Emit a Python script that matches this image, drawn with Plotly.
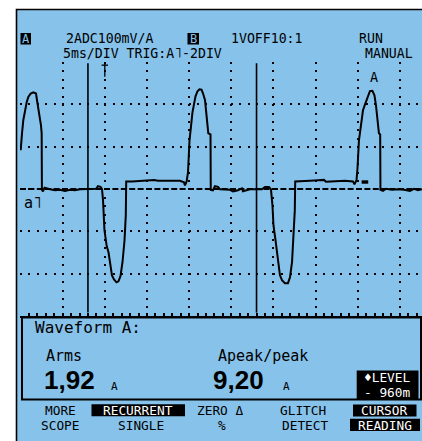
import plotly.graph_objects as go

time_ms = [0.02, 0.09, 0.18, 0.33, 0.53, 0.74, 0.93, 1.21, 1.52, 1.84, 1.99, 2.23, 2.43, 2.51, 2.54, 2.67, 2.85,
           3.50, 4.09, 4.69, 5.28, 5.87, 6.46, 7.06, 7.65, 8.24, 8.96, 9.19, 9.49, 9.67, 9.79, 9.96, 10.23, 10.44,
           10.68, 10.85, 11.09, 11.39, 11.62, 11.86, 12.10, 12.34, 12.49, 12.54, 13.23, 14.18, 15.12, 15.84, 16.31,
           17.14, 17.97, 18.92, 19.39, 19.51, 19.71, 19.87, 20.05, 20.22, 20.40, 20.58, 20.76, 21.00, 21.23, 21.47,
           21.65, 21.89, 22.06, 22.28, 22.54, 22.57, 22.83, 23.07, 23.43, 23.66, 24.85, 25.21, 25.80, 26.27, 26.39,
           27.22, 28.64, 29.00, 29.47, 29.71, 29.89, 30.01, 30.25, 30.43, 30.60, 30.78, 31.02, 31.37, 31.73, 31.97,
           32.21, 32.38, 32.54, 32.59, 33.15, 34.34, 35.29, 36.00, 36.24, 37.31, 38.49, 39.44, 39.62, 39.86, 39.98,
           40.15, 40.39, 40.63, 40.87, 41.04, 41.25, 41.45, 41.75, 41.99, 42.17, 42.35, 42.52, 42.67, 42.70, 43.00,
           43.36, 44.07, 44.78, 45.49, 46.20, 46.68, 47.15, 47.62]
current_a = [1.83, 2.30, 2.63, 3.25, 3.72, 4.11, 4.35, 4.51, 4.57, 4.51, 4.11, 3.56, 3.01, 2.63, -0.04, -0.11, 0.06,
             -0.01, -0.06, -0.04, -0.09, -0.04, -0.06, -0.01, -0.01, -0.01, 0.01, 0.13, 0.10, -0.01, -0.53, -1.95,
             -2.71, -2.99, -3.75, -4.08, -4.27, -4.41, -4.36, -4.12, -3.46, -2.42, -1.24, 0.36, 0.36, 0.39, 0.41,
             0.43, 0.39, 0.39, 0.36, 0.39, 0.32, 0.17, 0.36, 0.79, 2.30, 3.01, 3.62, 4.00, 4.38, 4.62, 4.71, 4.69,
             4.52, 4.19, 3.48, 2.63, 2.58, -0.04, -0.06, 0.13, 0.10, -0.01, -0.04, -0.11, -0.06, 0.03, -0.11, -0.01,
             -0.01, 0.10, 0.10, -0.01, -0.77, -1.71, -2.42, -2.99, -3.75, -4.08, -4.31, -4.45, -4.45, -4.17, -3.46,
             -2.42, -1.01, 0.36, 0.36, 0.39, 0.41, 0.43, 0.34, 0.36, 0.39, 0.36, 0.22, 0.41, 0.98, 2.30, 3.15, 3.72,
             4.00, 4.19, 4.47, 4.62, 4.64, 4.43, 3.95, 3.34, 2.63, 2.58, -0.04, -0.09, 0.01, -0.04, -0.01, -0.04,
             -0.09, 0.01, -0.06, -0.01]
cursor_ms = [8.0, 28.0]
trigger_ms = [10.0]
marker_ms = [40.86]
marker_a = [0.33]
ms_per_div = 5
a_per_div = 2
x_range = [-0.06, 47.63]
y_range = [-6, 6]

header_line1 = ["2ADC100mV/A", "1VOFF10:1", "RUN"]
header_line2 = ["5ms/DIV TRIG:A˥-2DIV", "MANUAL"]
channel_tags = ["A", "B"]
readout_title = "Waveform A:"
readout_labels = ["Arms", "Apeak/peak"]
readout_values = ["1,92", "9,20"]
readout_units = ["A", "A"]
level_text = ["♦LEVEL", "- 960m"]
menu_top = ["MORE", "RECURRENT", "ZERO Δ", "GLITCH", "CURSOR"]
menu_bottom = ["SCOPE", "SINGLE", "%", "DETECT", "READING"]
trace_label = "A"
level_label = "a˥"

# ---------------- styling ----------------
BLUE = "#86C2EA"
MONO = "DejaVu Sans Mono"
SANS = "Liberation Sans"
W, H = 422, 441
L, T, R, B = 20, 62, 0, 125
FS = 13.2
FM = 12.8


def px(x):
    return (x - L) / (W - L - R)


def py(y):
    return (H - B - y) / (H - T - B)


def ann(text, x, y, size=FS, color="black", family=MONO, xanchor="center", bold=False):
    return dict(text=text, x=px(x), y=py(y), xref="paper", yref="paper", xanchor=xanchor,
                yanchor="middle", showarrow=False, borderpad=0, borderwidth=0,
                font=dict(family=family, size=size, color=color, weight="bold" if bold else "normal"))


def box(x0, y0, x1, y1, fill="black", line=None, lw=0, layer="above"):
    return dict(type="rect", xref="paper", yref="paper", x0=px(x0), x1=px(x1), y0=py(y1), y1=py(y0),
                fillcolor=fill, line=dict(color=line or "rgba(0,0,0,0)", width=lw), layer=layer)


fig = go.Figure()
fig.add_trace(go.Scatter(x=time_ms, y=current_a, mode="lines",
                         line=dict(color="black", width=2), hoverinfo="skip"))

shapes = []
# screen background + border
shapes.append(box(16.5, 9.5, 424, 444, fill=BLUE, line="black", lw=1.6, layer="below"))
# zero (ground) dashed line
shapes.append(dict(type="line", xref="x", yref="y", x0=x_range[0], x1=x_range[1], y0=0, y1=0,
                   line=dict(color="black", width=2, dash="6px,2.4px")))
# cursors
for c in cursor_ms:
    shapes.append(dict(type="line", xref="x", yref="y", x0=c, x1=c, y0=-5.84, y1=5.94,
                       line=dict(color="black", width=1.6)))
# trigger mark
for tr in trigger_ms:
    shapes.append(dict(type="line", xref="x", yref="y", x0=tr, x1=tr, y0=5.3, y1=6.0,
                       line=dict(color="black", width=1.3)))
    shapes.append(dict(type="line", xref="x", yref="y", x0=tr - 0.38, x1=tr + 0.38, y0=5.85, y1=5.85,
                       line=dict(color="black", width=1.3)))
# small marker
for mt, ma in zip(marker_ms, marker_a):
    shapes.append(dict(type="rect", xref="x", yref="y", x0=mt - 0.39, x1=mt + 0.39, y0=ma - 0.08, y1=ma + 0.08,
                       fillcolor="black", line=dict(width=0)))
# readout box
shapes.append(box(22, 317.5, 421, 399.5, fill="rgba(0,0,0,0)", line="black", lw=2))
# inverse boxes
shapes.append(box(20.5, 33, 31, 44.5))
shapes.append(box(187.5, 33, 199, 44.5))
shapes.append(box(356.7, 370.5, 418.5, 399.3))
shapes.append(box(91.5, 404.3, 185, 416.3))
shapes.append(box(353, 404.5, 416.5, 416.5))
shapes.append(box(350, 418.8, 420, 431))

anns = []
anns.append(ann(channel_tags[0], 25.8, 38.8, color=BLUE, size=12))
anns.append(ann(channel_tags[1], 193.3, 38.8, color=BLUE, size=12))
anns.append(ann(header_line1[0], 109.6, 38.3))
anns.append(ann(header_line1[1], 267.3, 38.3))
anns.append(ann(header_line1[2], 371, 38.3))
anns.append(ann(header_line2[0], 142.8, 53.8))
anns.append(ann(header_line2[1], 389.2, 53.8))
anns.append(ann(trace_label, 374, 77, size=13.5))
anns.append(ann(level_label, 33.3, 203.3, size=15))

anns.append(ann(readout_title, 35, 327.8, size=16, xanchor="left"))
anns.append(ann(readout_labels[0], 64, 355.5, size=15))
anns.append(ann(readout_labels[1], 263.3, 355.5, size=15))
anns.append(ann(readout_values[0], 43.5, 379.5, size=26, family=SANS, bold=True, xanchor="left"))
anns.append(ann(readout_values[1], 212.5, 379.5, size=26, family=SANS, bold=True, xanchor="left"))
anns.append(ann(readout_units[0], 114, 386, size=11))
anns.append(ann(readout_units[1], 286, 386, size=11))
anns.append(ann(level_text[0], 387.5, 377.5, color="white", size=FM))
anns.append(ann(level_text[1], 387.5, 392.5, color="white", size=FM))

top_x = [60.8, 138.3, 220.3, 303.3, 384.8]
bot_x = [60, 140.8, 222, 305, 385]
for i, (s, x) in enumerate(zip(menu_top, top_x)):
    anns.append(ann(s, x, 410.2, color="white" if i in (1, 4) else "black", size=FM))
for i, (s, x) in enumerate(zip(menu_bottom, bot_x)):
    anns.append(ann(s, x, 425.2, color="white" if i == 4 else "black", size=FM))

fig.update_layout(
    width=W, height=H, margin=dict(l=L, r=R, t=T, b=B, pad=0),
    paper_bgcolor="white", plot_bgcolor=BLUE, showlegend=False,
    shapes=shapes, annotations=anns,
    xaxis=dict(range=x_range, tick0=0, dtick=ms_per_div, showticklabels=False,
               showgrid=True, gridcolor="black", gridwidth=1.8, griddash="2px,6.43px",
               ticks="inside", ticklen=3, tickwidth=2, tickcolor="black",
               showline=True, linecolor="black", linewidth=2, zeroline=False, fixedrange=True,
               minor=dict(dtick=1, tick0=0, ticks="inside", ticklen=3, tickwidth=2,
                          tickcolor="black", showgrid=False)),
    yaxis=dict(range=y_range, tick0=0, dtick=a_per_div, showticklabels=False,
               showgrid=True, gridcolor="black", gridwidth=1.8, griddash="2px,6.43px",
               ticks="", showline=False, zeroline=False, fixedrange=True),
)

fig.write_html("out.html", config={"displayModeBar": False},
               post_script="document.body.style.margin='0';")
